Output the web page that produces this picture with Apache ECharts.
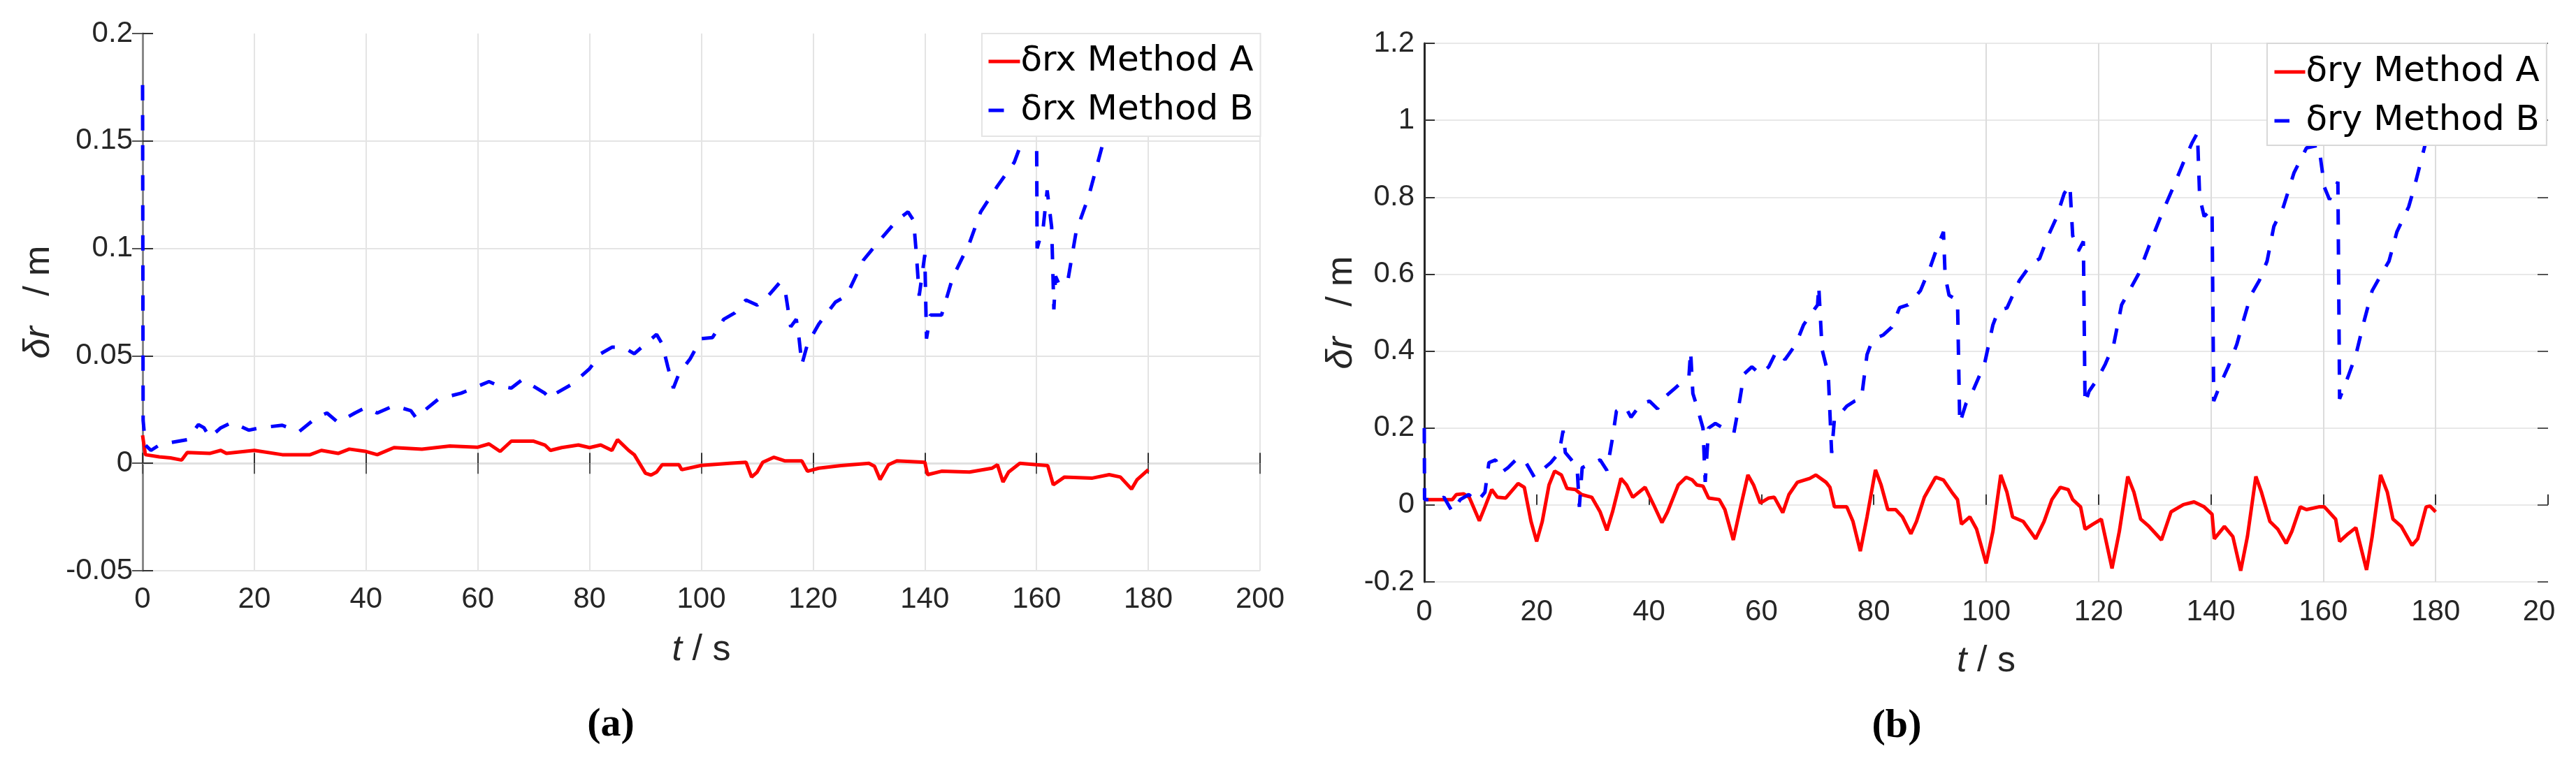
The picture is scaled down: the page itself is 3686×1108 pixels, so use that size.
<!DOCTYPE html>
<html>
<head>
<meta charset="utf-8">
<script src="https://cdn.jsdelivr.net/npm/echarts@6/dist/echarts.min.js"></script>
<style>html,body{margin:0;padding:0;background:#fff}#c{width:3686px;height:1108px}</style>
</head>
<body>
<div id="c"></div>
<script>
// ---- Panel (a): δrx ----
var aT_A = [0,0.5,3,5,7,8,12,14,15,20,25,30,32,35,37,40,42,45,50,55,60,62,64,66,70,72,73,75,78,80,82,84,85,87,88,90,91,92,93,96,96.5,100,105,108,109,110,111,113,115,118,119,121,125,130,131,132,133.5,135,140,140.5,143,148,152,153,154,155,157,160,162,163,165,170,173,175,177,178,180];
var aV_A = [0.013,0.004,0.003,0.0025,0.0015,0.005,0.0046,0.006,0.0046,0.006,0.004,0.004,0.006,0.0046,0.0066,0.0055,0.004,0.0073,0.0066,0.008,0.0075,0.009,0.0055,0.0103,0.0103,0.0085,0.006,0.0073,0.0085,0.0073,0.0085,0.006,0.011,0.006,0.004,-0.0046,-0.0055,-0.0041,-0.0007,-0.0007,-0.003,-0.001,0,0.0005,-0.0064,-0.0041,0.0005,0.0028,0.0011,0.0011,-0.0037,-0.0023,-0.0011,0,-0.0014,-0.0076,-0.0007,0.0011,0.0005,-0.0053,-0.0037,-0.0041,-0.0023,-0.0007,-0.0087,-0.0041,0,-0.0007,-0.0011,-0.01,-0.0064,-0.0069,-0.0053,-0.0064,-0.012,-0.0076,-0.003];
var aT_B = [0,0.1,0.5,1.5,3,5,8,10,11,12,14,16,19,21,25,28,31,33,35,38,40,42,45,48,49,50,53,57,62,64,66,68,70,72,73,74,77,80,82,84,86,88,92,93,94,95,96,98,100,102,104,106,108,110,112,114,115,116,117,117.5,118,119,121,124,126,129,132,135,137,138,138.5,139,140,140.3,141,143,145,148,150,153,156,158,159.5,160,160.1,161.2,161.9,162.7,163.1,163.4,164.1,165.6,167.1,169.3,172.2,173.7,177,180];
var aV_B = [0.176,0.02,0.0085,0.006,0.0085,0.0096,0.011,0.018,0.0165,0.012,0.0165,0.019,0.0154,0.0165,0.0177,0.0147,0.021,0.0234,0.019,0.0234,0.026,0.0234,0.0268,0.0245,0.021,0.0236,0.030,0.0326,0.038,0.0358,0.035,0.039,0.0358,0.0326,0.030,0.0326,0.037,0.044,0.051,0.054,0.054,0.051,0.060,0.0555,0.045,0.035,0.0417,0.0486,0.058,0.0585,0.067,0.070,0.076,0.0736,0.078,0.084,0.0805,0.0635,0.067,0.058,0.046,0.0555,0.0647,0.075,0.078,0.0945,0.104,0.113,0.117,0.113,0.097,0.078,0.097,0.058,0.069,0.069,0.0865,0.1025,0.117,0.129,0.140,0.154,0.162,0.16,0.10,0.11,0.127,0.11,0.0716,0.087,0.083,0.085,0.108,0.124,0.152,0.16,0.172,0.18];

// ---- Panel (b): δry ----
var bT_A = [0,2.5,5,5.7,7,8,9.8,10.8,12,13,14.5,16.7,17.8,19,20,21,22.2,23.2,24.4,25.4,26.9,28,29.8,31.3,32.5,33.5,35,36,37.1,39.3,40.8,42.3,43.3,45.2,46.6,47.7,48.5,49.6,50.6,52.5,53.5,55,56.1,57.6,58.6,59.8,61.3,62.3,63.8,64.9,66.4,68.6,69.7,71.5,72.2,73,75.2,76.3,77.6,78.8,80.3,81.3,82.5,83.9,85.1,86.6,87.6,89,91,92.4,93.9,94.9,95.6,97.1,98.3,100,101.2,102.6,103.7,104.7,106.6,108.8,110.3,111.7,113.2,114.6,115.4,116.8,117.6,119,120.5,122.4,123.7,125.2,126.3,127.5,129,131.2,132.9,135.1,137,138.8,140.2,140.6,142.4,143.9,145.3,146.5,148,149,150.5,151.9,153.4,154.4,155.9,157,159.2,160.2,162.2,162.9,164.4,165.8,167.7,168.7,170.2,171.4,172.4,173.9,175.8,176.8,178.3,179,180];
var bV_A = [0.014,0.014,0.014,0.027,0.029,0.02,-0.041,-0.005,0.04,0.02,0.018,0.056,0.046,-0.043,-0.095,-0.043,0.052,0.088,0.078,0.043,0.04,0.027,0.02,-0.018,-0.066,-0.018,0.069,0.052,0.02,0.046,0.001,-0.046,-0.018,0.052,0.072,0.065,0.052,0.049,0.018,0.014,-0.012,-0.091,-0.018,0.078,0.052,0.005,0.018,0.02,-0.02,0.027,0.059,0.069,0.078,0.059,0.046,-0.005,-0.005,-0.043,-0.12,-0.031,0.091,0.052,-0.012,-0.012,-0.031,-0.075,-0.043,0.02,0.072,0.065,0.033,0.014,-0.05,-0.031,-0.063,-0.152,-0.069,0.078,0.033,-0.031,-0.043,-0.088,-0.043,0.014,0.046,0.04,0.014,-0.005,-0.063,-0.05,-0.037,-0.165,-0.069,0.074,0.033,-0.037,-0.056,-0.091,-0.018,0.001,0.008,-0.005,-0.024,-0.088,-0.056,-0.082,-0.171,-0.082,0.074,0.033,-0.043,-0.063,-0.1,-0.069,-0.005,-0.012,-0.005,-0.005,-0.037,-0.095,-0.075,-0.059,-0.169,-0.082,0.078,0.033,-0.037,-0.056,-0.105,-0.088,-0.005,-0.003,-0.018];
var bT_B = [0,0.05,2.5,3.5,5,6.4,7.9,9.4,10.8,11.5,12.7,13.7,14.9,16.7,18.1,19.6,21,22.5,24,24.7,25.1,26.2,27.2,27.6,28.1,29.1,31.3,32.5,33.5,34.2,35.7,36.8,38.6,40.1,41.5,43,44.5,45.9,47.1,47.4,47.8,48.5,49.6,50,50.6,51.8,53.2,55.1,55.9,56.9,58.3,59.8,61.3,62.7,64.2,66.1,67.5,69,70,70.2,70.8,71.9,72.5,73,73.7,75.2,76.6,77.8,78.8,79.8,81.7,83.2,84.6,86.1,88.3,90.1,91.2,92.4,92.7,93.4,94.9,95.3,96.4,97.8,99.7,101.2,102.2,103.7,105.9,108.1,109.5,111,112.4,113.9,114.9,115.4,116.4,117.3,117.6,118.3,119.8,121.2,122.7,124.1,125.6,127.1,129.3,131.4,133.3,135.1,136.6,137.6,138,138.8,140.2,140.5,141.7,143.1,144.6,145.8,147.1,148.6,150,151.2,152.9,154.8,157,159.2,160.2,161.1,162.6,162.9,164.4,165.8,167.3,168.7,170.2,171.7,173.1,175.2,176.2,178.1,180];
var bV_B = [0.2,0.014,0.014,0.02,-0.018,0.014,0.027,0.008,0.033,0.11,0.117,0.084,0.097,0.123,0.11,0.072,0.091,0.11,0.136,0.193,0.136,0.117,0.097,-0.005,0.097,0.104,0.117,0.09,0.174,0.244,0.257,0.228,0.263,0.27,0.25,0.283,0.302,0.32,0.333,0.4,0.29,0.257,0.2,0.06,0.2,0.212,0.2,0.187,0.251,0.34,0.359,0.34,0.359,0.4,0.378,0.417,0.468,0.5,0.52,0.57,0.404,0.34,0.135,0.225,0.231,0.257,0.27,0.276,0.391,0.43,0.442,0.462,0.513,0.52,0.557,0.62,0.666,0.71,0.595,0.545,0.532,0.212,0.263,0.302,0.366,0.468,0.506,0.512,0.583,0.628,0.64,0.698,0.743,0.81,0.832,0.7,0.66,0.685,0.263,0.295,0.327,0.366,0.417,0.52,0.56,0.6,0.685,0.762,0.826,0.89,0.94,0.967,0.8,0.75,0.77,0.27,0.315,0.36,0.417,0.48,0.545,0.583,0.634,0.724,0.775,0.864,0.928,0.935,0.826,0.794,0.84,0.276,0.333,0.39,0.48,0.557,0.596,0.634,0.71,0.775,0.826,0.935,0.98];

// ---- tick labels ----
var xLabelsA = ['0','20','40','60','80','100','120','140','160','180','200'];
var xLabelsB = ['0','20','40','60','80','100','120','140','160','180','20'];
var yLabelsA = ['-0.05','0','0.05','0.1','0.15','0.2'];
var yLabelsB = ['-0.2','0','0.2','0.4','0.6','0.8','1','1.2'];
var namesA = ['δrx Method A','δrx Method B'];
var namesB = ['δry Method A','δry Method B'];

function zip(t, v){ return t.map(function(x,i){ return [x, v[i]]; }); }

var TICKF = 'Liberation Sans, Arial, sans-serif';
var labelStyle = {fontFamily: TICKF, fontSize: 42, color: '#262626'};
var nameRich = {
  i: {fontFamily: TICKF, fontSize: 52, fontStyle: 'italic', color: '#262626'},
  n: {fontFamily: TICKF, fontSize: 52, color: '#262626'}
};

function xAx(grid, labels, opts){
  return Object.assign({
    type: 'value', gridIndex: grid, min: 0, max: 200, interval: 20,
    position: 'bottom',
    axisLabel: Object.assign({margin: 20, formatter: function(v){ return labels[Math.round(v/20)]; }}, labelStyle),
    axisTick: {show: true, inside: true, length: 15, lineStyle: {color: '#333', width: 2}},
    name: '{i|t}{n| / s}', nameLocation: 'middle', nameGap: 88,
    nameTextStyle: {rich: nameRich}
  }, opts);
}
function yAx(grid, min, max, interval, labels, opts){
  return Object.assign({
    type: 'value', gridIndex: grid, min: min, max: max, interval: interval,
    position: 'left',
    axisLabel: Object.assign({margin: 14, formatter: function(v){ return labels[Math.round((v-min)/interval)]; }}, labelStyle),
    axisTick: {show: true, inside: true, length: 15, lineStyle: {color: '#333', width: 2}},
    name: '{i|δr}{n|   / m}', nameLocation: 'middle', nameRotate: 90,
    nameTextStyle: {rich: nameRich}
  }, opts);
}

// legend icon for the dashed series: a single 22-px dash inside a 45x20 box
var dashIcon = 'path://M0,7.5H22V12.5H0Z M0,0H0.01V0.01H0Z M44.99,19.99H45V20H44.99Z';
function legendItems(names){
  return [
    {name: names[0], lineStyle: {color: '#ff0000', width: 5, type: 'solid'}},
    {name: names[1], icon: dashIcon, itemStyle: {color: '#0000ff', opacity: 1, borderWidth: 0}}
  ];
}

var gridCol = '#e4e4e4';
var legendBase = {orient: 'vertical', itemHeight: 20, itemGap: 20,
  itemStyle: {opacity: 0, borderWidth: 0},
  backgroundColor: '#fff', borderWidth: 2};
var legendText = {fontFamily: 'DejaVu Sans, sans-serif', fontSize: 50, color: '#000', lineHeight: 50, padding: [0,0,0,-4]};
var option = {
  backgroundColor: '#fff',
  animation: false,
  grid: [
    {left: 204, right: 1883, top: 48, bottom: 291},
    {left: 2038, right: 40, top: 62, bottom: 275}
  ],
  xAxis: [
    xAx(0, xLabelsA, {
      axisLine: {show: true, lineStyle: {color: '#e0e0e0', width: 3}},
      splitLine: {show: true, lineStyle: {color: gridCol, width: 2}}
    }),
    {type: 'value', gridIndex: 0, min: 0, max: 200, interval: 20, position: 'top',
     axisLine: {show: false}, axisLabel: {show: false}, splitLine: {show: false},
     axisTick: {show: true, inside: true, length: 15, lineStyle: {color: '#555', width: 2}}},
    xAx(1, xLabelsB, {
      axisLabel: Object.assign({margin: 22, formatter: function(v){ var i = Math.round(v/20); return i === 10 ? '{p|' + xLabelsB[i] + '}' : xLabelsB[i]; },
        rich: {p: {fontFamily: TICKF, fontSize: 42, color: '#262626', padding: [0, 26, 0, 0]}}}, labelStyle),
      axisLine: {show: false},
      splitLine: {show: true, lineStyle: {color: ['transparent','transparent','transparent','transparent','transparent', '#dcdcdc','#dcdcdc','#dcdcdc','#dcdcdc','#dcdcdc','transparent'], width: 2}}
    })
  ],
  yAxis: [
    yAx(0, -0.05, 0.2, 0.05, yLabelsA, {
      nameGap: 122,
      axisLine: {show: true, lineStyle: {color: '#666', width: 2}},
      splitLine: {show: true, lineStyle: {color: [gridCol, gridCol, gridCol, gridCol, gridCol, 'transparent'], width: 2}}
    }),
    {type: 'value', gridIndex: 0, min: -0.05, max: 0.2, interval: 0.05, position: 'right',
     axisLine: {show: true, lineStyle: {color: '#888', width: 3}}, axisLabel: {show: false}, splitLine: {show: false},
     axisTick: {show: true, inside: true, length: 15, lineStyle: {color: '#555', width: 2}}},
    yAx(1, -0.2, 1.2, 0.2, yLabelsB, {
      nameGap: 92,
      axisLine: {show: true, lineStyle: {color: '#262626', width: 3}},
      splitLine: {show: true, lineStyle: {color: '#e8e8e8', width: 2}}
    }),
    {type: 'value', gridIndex: 1, min: -0.2, max: 1.2, interval: 0.2, position: 'right',
     axisLine: {show: false}, axisLabel: {show: false}, splitLine: {show: false},
     axisTick: {show: true, inside: true, length: 15, lineStyle: {color: '#555', width: 2}}}
  ],
  legend: [
    Object.assign({}, legendBase, {data: legendItems(namesA), left: 1405, top: 48, itemWidth: 45,
     padding: [15, 10, 12, 7], borderColor: '#e4e4e4', textStyle: legendText}),
    Object.assign({}, legendBase, {data: legendItems(namesB), left: 3244, top: 62, itemWidth: 44,
     padding: [16, 10, 10, 8], borderColor: '#d8d8d8', textStyle: legendText})
  ],
  series: [
    {name: namesA[0], type: 'line', xAxisIndex: 0, yAxisIndex: 0, data: zip(aT_A, aV_A), symbol: 'none',
     lineStyle: {color: '#ff0000', width: 5}, itemStyle: {color: '#ff0000'}},
    {name: namesA[1], type: 'line', xAxisIndex: 0, yAxisIndex: 0, data: zip(aT_B, aV_B), symbol: 'none',
     lineStyle: {color: '#0000ff', width: 5, type: [22, 21]}, itemStyle: {color: '#0000ff'}},
    {name: namesB[0], type: 'line', xAxisIndex: 2, yAxisIndex: 2, data: zip(bT_A, bV_A), symbol: 'none',
     lineStyle: {color: '#ff0000', width: 5}, itemStyle: {color: '#ff0000'}},
    {name: namesB[1], type: 'line', xAxisIndex: 2, yAxisIndex: 2, data: zip(bT_B, bV_B), symbol: 'none',
     lineStyle: {color: '#0000ff', width: 5, type: [22, 21]}, itemStyle: {color: '#0000ff'}}
  ],
  graphic: [
    {type: 'text', x: 874, y: 1038, style: {text: '(a)', font: 'bold 58px "Liberation Serif", "Times New Roman", serif', fill: '#000', textAlign: 'center', textVerticalAlign: 'middle'}},
    {type: 'text', x: 2714, y: 1040, style: {text: '(b)', font: 'bold 58px "Liberation Serif", "Times New Roman", serif', fill: '#000', textAlign: 'center', textVerticalAlign: 'middle'}}
  ]
};
var chart = echarts.init(document.getElementById('c'), null, {renderer: 'canvas'});
chart.setOption(option);
</script>
</body>
</html>
